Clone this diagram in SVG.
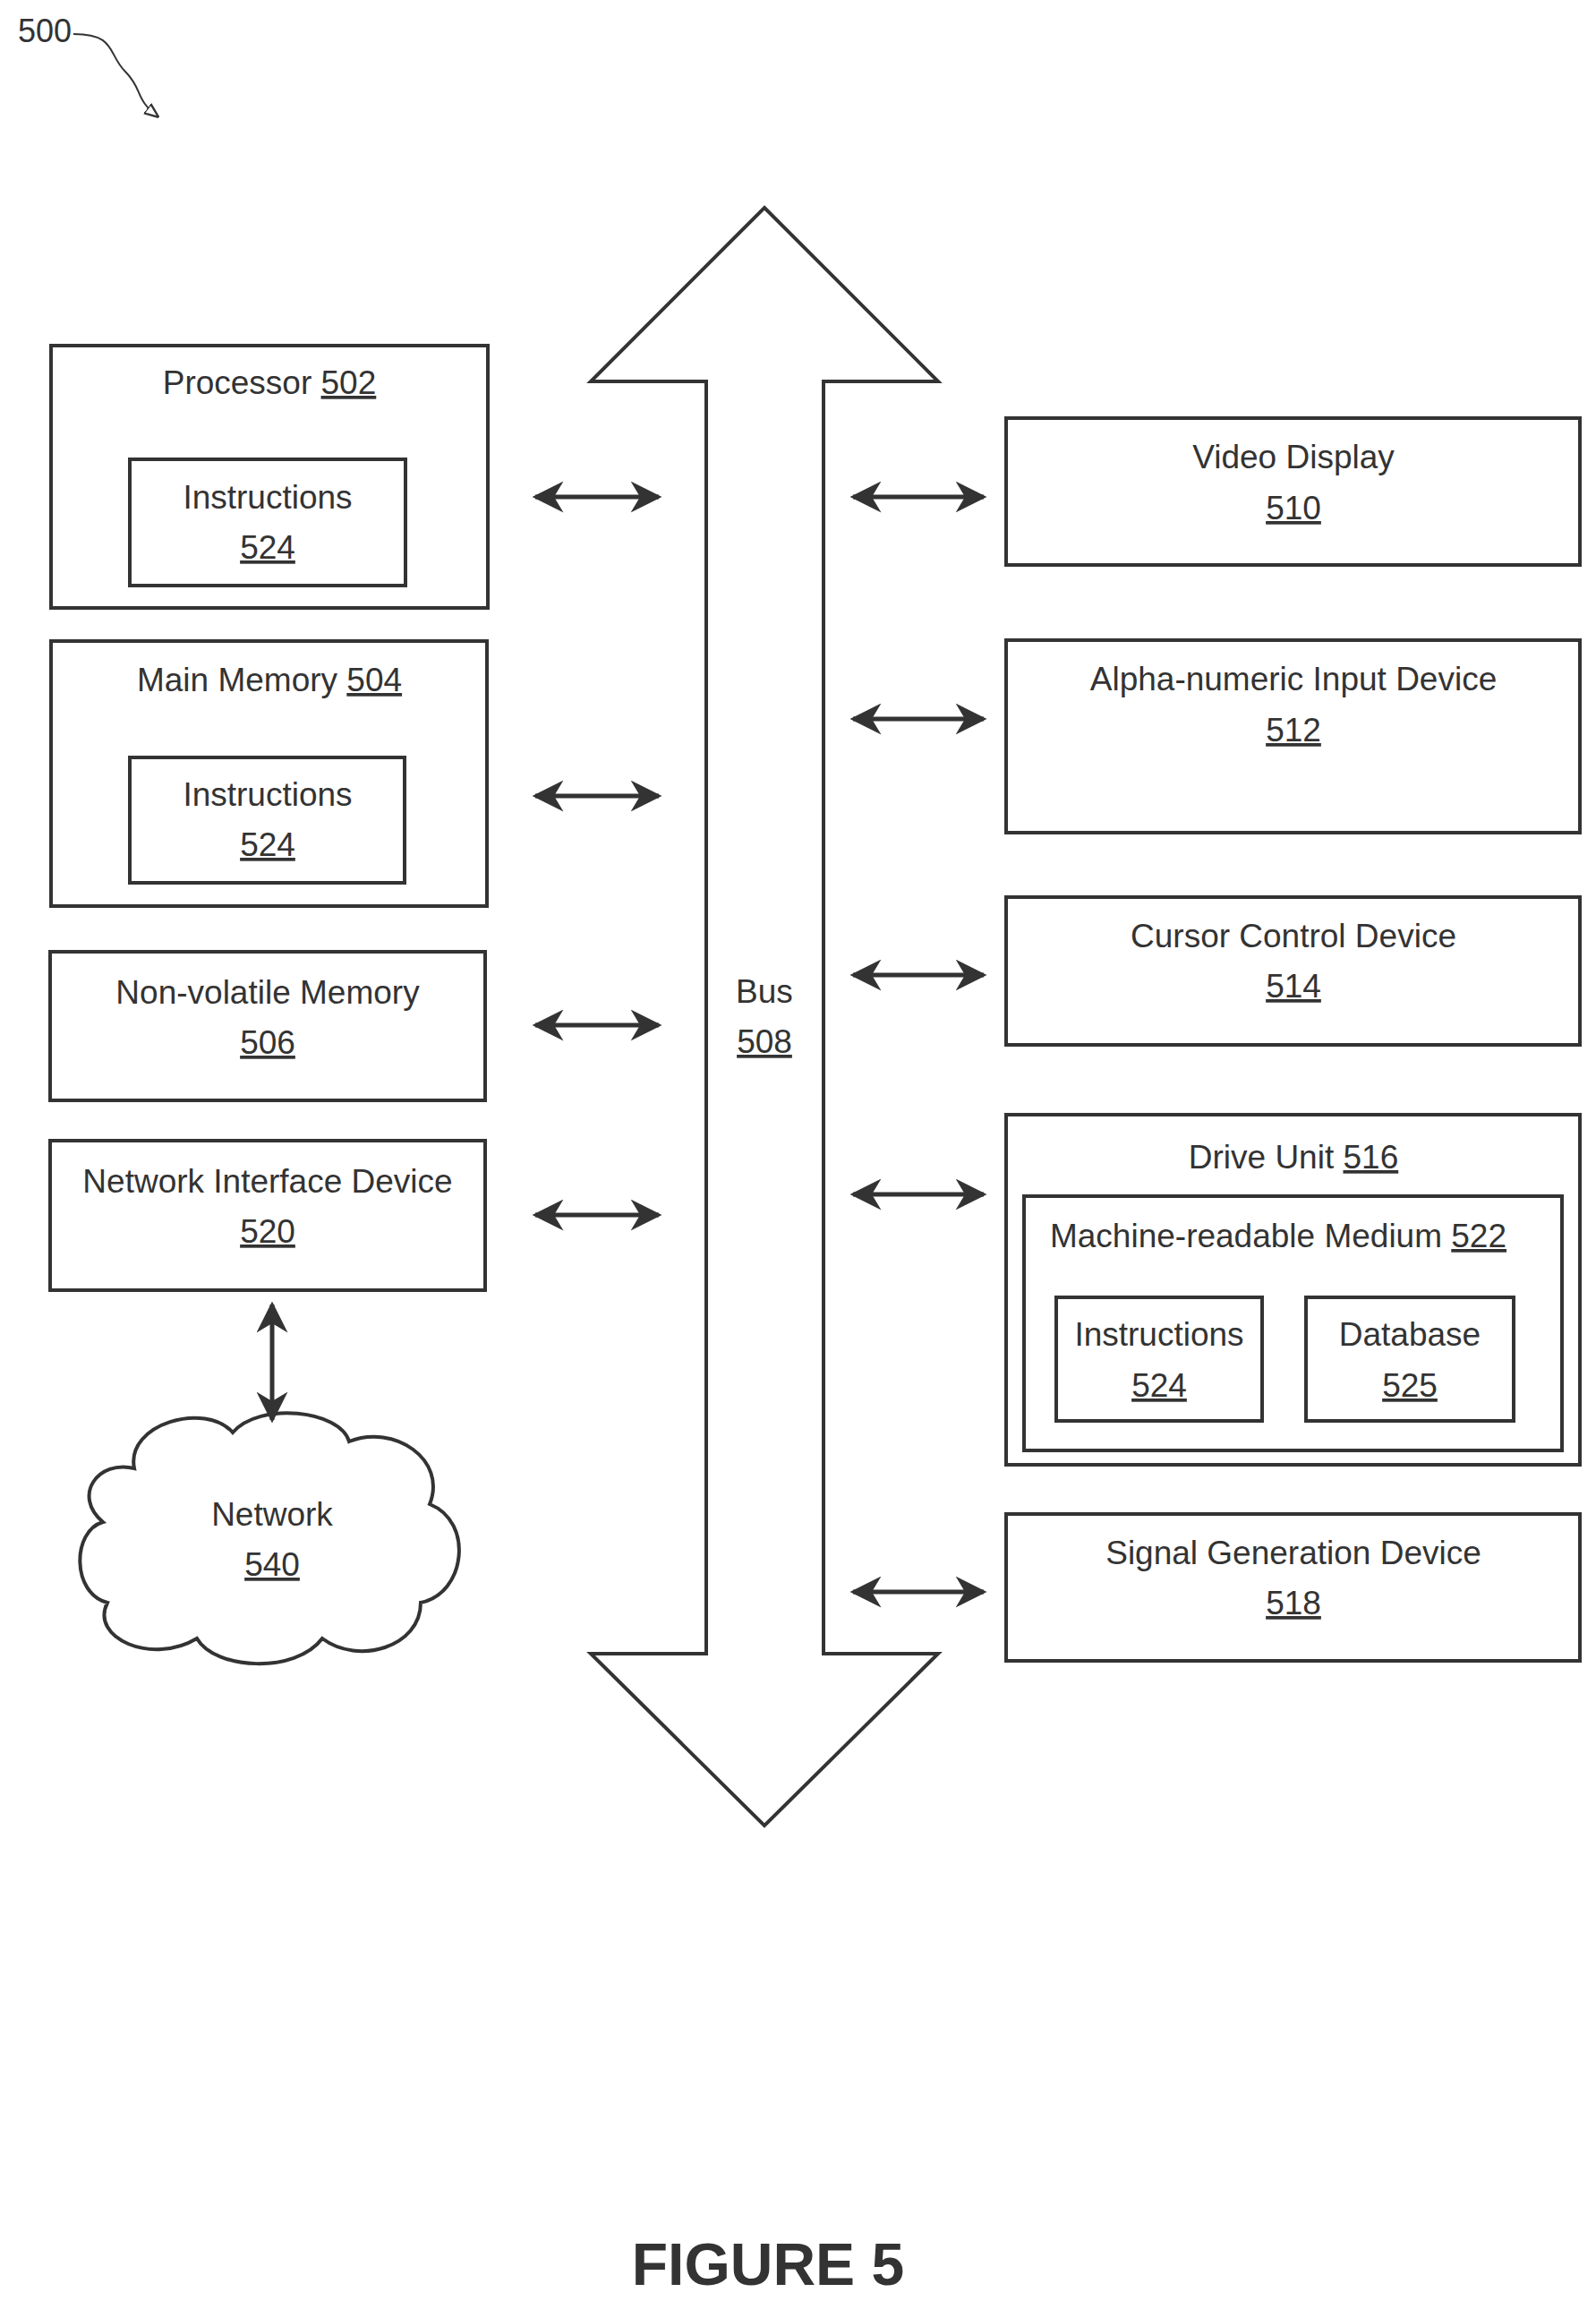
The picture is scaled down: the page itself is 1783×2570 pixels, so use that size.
<svg xmlns="http://www.w3.org/2000/svg" width="1783" height="2570" viewBox="0 0 1783 2570">
<style>
.b{fill:#fff;stroke:#333;stroke-width:4}
.t{font-family:"Liberation Sans",Arial,sans-serif;font-size:37px;fill:#333;text-anchor:middle}
.u{text-decoration:underline}
.c{stroke:#333;stroke-width:5;fill:none}
</style>
<defs>
<marker id="a" viewBox="0 0 10 10" refX="9" refY="5" markerWidth="7" markerHeight="7" orient="auto-start-reverse"><path d="M0,0L10,5L0,10L3,5z" fill="#333"/></marker>
<marker id="s" viewBox="0 0 10 10" refX="9" refY="5" markerWidth="8" markerHeight="8" orient="auto"><path d="M0,1L10,5L0,9z" fill="#fff" stroke="#333" stroke-width="1.5"/></marker>
</defs>
<rect width="1783" height="2570" fill="#fff"/>
<g id="label500"><text x="50" y="47" class="t" style="font-size:36px">500</text>
<path d="M82,38 C130,38 120,60 140,80 C160,100 150,110 176,130" fill="none" stroke="#333" stroke-width="2" marker-end="url(#s)"/></g>
<g id="bus"><path class="b" d="M854,232 L1048,426 L920,426 L920,1847 L1048,1847 L854,2039 L660,1847 L789,1847 L789,426 L660,426 Z"/>
<text class="t" x="854" y="1120">Bus</text><text class="t u" x="854" y="1176">508</text></g>
<g id="processor"><rect class="b" x="57" y="386" width="488" height="293"/><text class="t" x="301" y="440">Processor <tspan class="u">502</tspan></text>
<rect class="b" x="145" y="513" width="308" height="141"/><text class="t" x="299" y="568">Instructions</text><text class="t u" x="299" y="624">524</text></g>
<g id="mainmem"><rect class="b" x="57" y="716" width="487" height="296"/><text class="t" x="301" y="772">Main Memory <tspan class="u">504</tspan></text>
<rect class="b" x="145" y="846" width="307" height="140"/><text class="t" x="299" y="900">Instructions</text><text class="t u" x="299" y="956">524</text></g>
<g id="nvm"><rect class="b" x="56" y="1063" width="486" height="166"/><text class="t" x="299" y="1121">Non-volatile Memory</text><text class="t u" x="299" y="1177">506</text></g>
<g id="nid"><rect class="b" x="56" y="1274" width="486" height="167"/><text class="t" x="299" y="1332">Network Interface Device</text><text class="t u" x="299" y="1388">520</text></g>
<g id="network"><path class="b" d="M150,1640 C140,1590 230,1565 260,1600 C290,1565 380,1575 390,1610 C440,1590 500,1630 480,1680 C530,1700 520,1780 470,1790 C470,1840 400,1860 360,1830 C330,1870 240,1865 220,1830 C170,1860 100,1830 120,1790 C80,1780 80,1710 115,1700 C80,1670 110,1630 150,1640 Z"/>
<text class="t" x="304" y="1704">Network</text><text class="t u" x="304" y="1760">540</text></g>
<g id="video"><rect class="b" x="1124" y="467" width="641" height="164"/><text class="t" x="1445" y="523">Video Display</text><text class="t u" x="1445" y="580">510</text></g>
<g id="alpha"><rect class="b" x="1124" y="715" width="641" height="215"/><text class="t" x="1445" y="771">Alpha-numeric Input Device</text><text class="t u" x="1445" y="828">512</text></g>
<g id="cursor"><rect class="b" x="1124" y="1002" width="641" height="165"/><text class="t" x="1445" y="1058">Cursor Control Device</text><text class="t u" x="1445" y="1114">514</text></g>
<g id="drive"><rect class="b" x="1124" y="1245" width="641" height="391"/><text class="t" x="1445" y="1305">Drive Unit <tspan class="u">516</tspan></text>
<rect class="b" x="1144" y="1336" width="601" height="284"/><text class="t" x="1428" y="1393">Machine-readable Medium <tspan class="u">522</tspan></text>
<rect class="b" x="1180" y="1449" width="230" height="138"/><text class="t" x="1295" y="1503">Instructions</text><text class="t u" x="1295" y="1560">524</text>
<rect class="b" x="1459" y="1449" width="232" height="138"/><text class="t" x="1575" y="1503">Database</text><text class="t u" x="1575" y="1560">525</text></g>
<g id="signal"><rect class="b" x="1124" y="1691" width="641" height="164"/><text class="t" x="1445" y="1747">Signal Generation Device</text><text class="t u" x="1445" y="1803">518</text></g>
<g id="connectors">
<path class="c" marker-start="url(#a)" marker-end="url(#a)" d="M598,555H736"/>
<path class="c" marker-start="url(#a)" marker-end="url(#a)" d="M598,889H736"/>
<path class="c" marker-start="url(#a)" marker-end="url(#a)" d="M598,1145H736"/>
<path class="c" marker-start="url(#a)" marker-end="url(#a)" d="M598,1357H736"/>
<path class="c" marker-start="url(#a)" marker-end="url(#a)" d="M953,555H1099"/>
<path class="c" marker-start="url(#a)" marker-end="url(#a)" d="M953,803H1099"/>
<path class="c" marker-start="url(#a)" marker-end="url(#a)" d="M953,1089H1099"/>
<path class="c" marker-start="url(#a)" marker-end="url(#a)" d="M953,1334H1099"/>
<path class="c" marker-start="url(#a)" marker-end="url(#a)" d="M953,1778H1099"/>
<path class="c" marker-start="url(#a)" marker-end="url(#a)" d="M304,1457V1586"/>
</g>
<text x="858" y="2552" style="font-family:'Liberation Sans',Arial,sans-serif;font-size:66px;font-weight:bold;fill:#333;text-anchor:middle">FIGURE 5</text>
</svg>
